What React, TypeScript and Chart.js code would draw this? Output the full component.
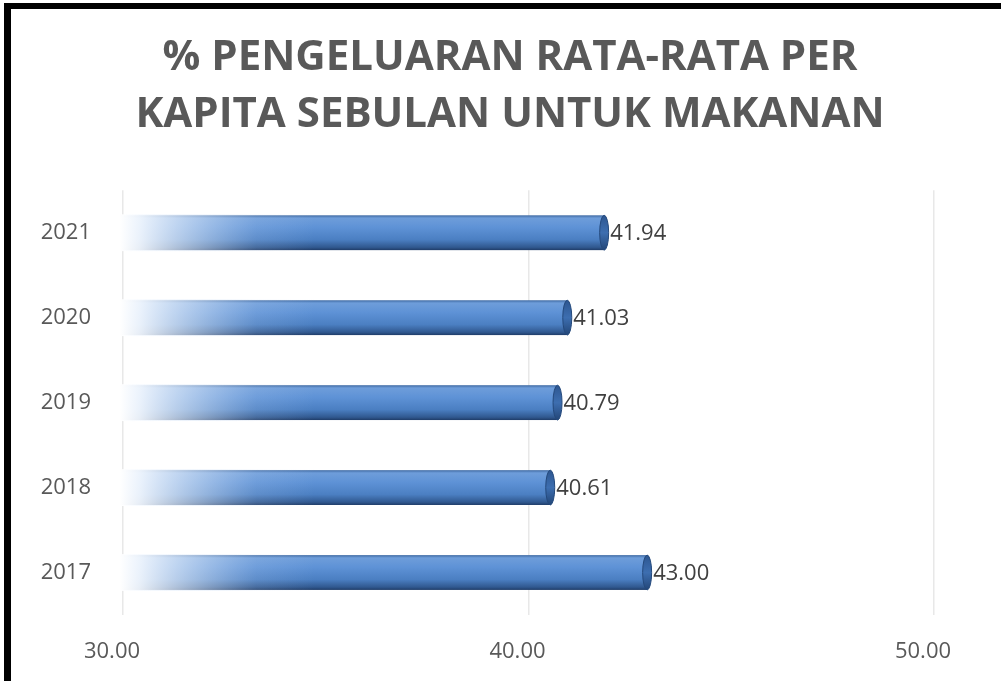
import React, { useEffect, useRef } from "react";
import { Chart, registerables } from "chart.js";

Chart.register(...registerables);

const titleLines = ["% PENGELUARAN RATA-RATA PER", "KAPITA SEBULAN UNTUK MAKANAN"];
const years = ["2021", "2020", "2019", "2018", "2017"];
const values = [41.94, 41.03, 40.79, 40.61, 43.0];
const xMin = 30;
const xMax = 50;
const xStep = 10;

const FONT = "'Open Sans', 'Liberation Sans', sans-serif";

// shift the title box so it centres like the reference
const titlePlacePlugin = {
  id: "titlePlace",
  afterLayout(chart: any) {
    const tb = chart.titleBlock;
    if (tb) {
      tb.left = 86;
      tb.right = 934;
    }
  },
};

const cylinderPlugin = {
  id: "cylinderBars",
  afterDatasetsDraw(chart: any) {
    const ctx = chart.ctx as CanvasRenderingContext2D;
    const meta = chart.getDatasetMeta(0);
    meta.data.forEach((el: any, i: number) => {
      const p = el.getProps(["x", "y", "base", "height"], true);
      const h = p.height;
      const top = p.y - h / 2;
      const left = p.base - 4;
      const capX = p.x - 3;
      ctx.save();
      // body vertical shading
      const vg = ctx.createLinearGradient(0, top, 0, top + h);
      vg.addColorStop(0, "#3f6aa3");
      vg.addColorStop(0.08, "#6e9dda");
      vg.addColorStop(0.35, "#5e92d6");
      vg.addColorStop(0.7, "#4b7fc2");
      vg.addColorStop(0.92, "#30588f");
      vg.addColorStop(1, "#1f3c68");
      ctx.fillStyle = vg;
      ctx.fillRect(left, top, capX - left, h);
      // left white fade
      const fadeLen = Math.min(195, capX - left);
      const hg = ctx.createLinearGradient(left, 0, left + fadeLen, 0);
      hg.addColorStop(0, "rgba(255,255,255,1)");
      hg.addColorStop(0.1, "rgba(246,250,255,0.93)");
      hg.addColorStop(0.4, "rgba(225,236,250,0.55)");
      hg.addColorStop(0.7, "rgba(205,222,245,0.15)");
      hg.addColorStop(1, "rgba(205,222,245,0)");
      ctx.fillStyle = hg;
      ctx.fillRect(left - 1, top - 1, fadeLen + 1, h + 2);
      // right cap (end face)
      const rx = 4.5;
      const cg = ctx.createLinearGradient(0, top, 0, top + h);
      cg.addColorStop(0, "#2d5690");
      cg.addColorStop(0.5, "#3d6eb0");
      cg.addColorStop(1, "#234677");
      ctx.beginPath();
      ctx.ellipse(capX, p.y, rx, h / 2, 0, 0, Math.PI * 2);
      ctx.fillStyle = cg;
      ctx.fill();
      ctx.lineWidth = 1;
      ctx.strokeStyle = "#24497c";
      ctx.stroke();
      // value label
      ctx.fillStyle = "#404040";
      ctx.font = `22px ${FONT}`;
      ctx.textAlign = "left";
      ctx.textBaseline = "middle";
      ctx.fillText(values[i].toFixed(2), p.x + 3, p.y + 1);
      ctx.restore();
    });
  },
};

export default function App() {
  const ref = useRef<HTMLCanvasElement | null>(null);
  useEffect(() => {
    if (!ref.current) return;
    const chart = new Chart(ref.current, {
      type: "bar",
      data: {
        labels: years,
        datasets: [
          {
            data: values,
            base: xMin,
            backgroundColor: "rgba(0,0,0,0)",
            borderWidth: 0,
            barPercentage: 0.82,
            categoryPercentage: 0.5,
          },
        ],
      },
      options: {
        indexAxis: "y",
        responsive: false,
        animation: false,
        layout: { padding: { left: 0, right: 67, top: 0, bottom: 0 } },
        plugins: {
          legend: { display: false },
          tooltip: { enabled: false },
          title: {
            display: true,
            text: titleLines,
            color: "#595959",
            font: { family: FONT, size: 42, weight: "bold", lineHeight: 1.36 },
            padding: { top: 29, bottom: 47 },
          },
        },
        scales: {
          x: {
            type: "linear",
            min: xMin,
            max: xMax,
            ticks: {
              stepSize: xStep,
              color: "#595959",
              font: { family: FONT, size: 22 },
              padding: 24,
              labelOffset: -11,
              callback: (v: any) => Number(v).toFixed(2),
            },
            grid: { color: "#e8e8e8", lineWidth: 1.5, drawTicks: false },
            border: { display: false },
            afterFit: (scale: any) => {
              scale.height = 66;
            },
          },
          y: {
            type: "category",
            ticks: {
              color: "#595959",
              font: { family: FONT, size: 22 },
              padding: 32,
            },
            grid: { display: false, drawTicks: false },
            border: { display: false },
            afterFit: (scale: any) => {
              scale.width = 123;
            },
          },
        },
      },
      plugins: [titlePlacePlugin, cylinderPlugin],
    });
    return () => chart.destroy();
  }, []);

  return (
    <div style={{ position: "fixed", left: 0, top: 0, width: 1001, height: 681, background: "#fff", overflow: "hidden" }}>
      <canvas ref={ref} width={1001} height={681} style={{ position: "absolute", left: 0, top: 0 }} />
      <div
        style={{
          position: "absolute",
          left: 4,
          top: 3,
          width: 1010,
          height: 700,
          borderLeft: "7px solid #000",
          borderTop: "6px solid #000",
          boxSizing: "border-box",
          pointerEvents: "none",
        }}
      />
    </div>
  );
}
